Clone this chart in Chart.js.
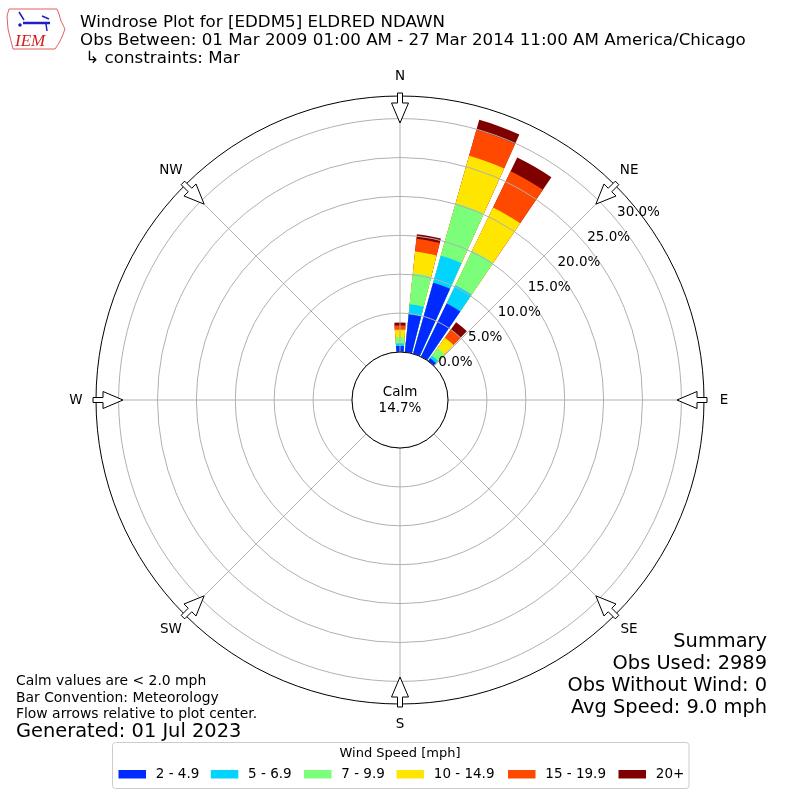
<!DOCTYPE html>
<html>
<head>
<meta charset="utf-8">
<script src="https://cdn.jsdelivr.net/npm/chart.js@4.4.1/dist/chart.umd.min.js"></script>
<style>
  html, body { margin: 0; padding: 0; background: #fff; }
  #wrap { width: 800px; height: 800px; }
</style>
</head>
<body>
<div id="wrap"><canvas id="c" width="800" height="800"></canvas></div>
<script>
// ---- data (percent of observations) ----
const directions = [0,10,20,30,40,50,60,70,80,90,100,110,120,130,140,150,160,170,
                    180,190,200,210,220,230,240,250,260,270,280,290,300,310,320,330,340,350];
const speedBins = ['2 - 4.9', '5 - 6.9', '7 - 9.9', '10 - 14.9', '15 - 19.9', '20+'];
const binColors = ['#002aff', '#00d4ff', '#7bff7b', '#ffe600', '#ff4800', '#800000'];
const spd2to4   = [0.78, 4.90, 9.50, 7.60, 0.45, 0,0,0,0,0,0,0,0,0,0,0,0,0,0,0,0,0,0,0,0,0,0,0,0,0,0,0,0,0,0,0];
const spd5to6   = [0.33, 1.30, 3.60, 2.60, 0.40, 0,0,0,0,0,0,0,0,0,0,0,0,0,0,0,0,0,0,0,0,0,0,0,0,0,0,0,0,0,0,0];
const spd7to9   = [0.77, 4.00, 7.00, 4.95, 1.20, 0,0,0,0,0,0,0,0,0,0,0,0,0,0,0,0,0,0,0,0,0,0,0,0,0,0,0,0,0,0,0];
const spd10to14 = [0.99, 2.80, 6.35, 6.15, 1.65, 0,0,0,0,0,0,0,0,0,0,0,0,0,0,0,0,0,0,0,0,0,0,0,0,0,0,0,0,0,0,0];
const spd15to19 = [0.55, 1.65, 3.47, 5.20, 1.30, 0,0,0,0,0,0,0,0,0,0,0,0,0,0,0,0,0,0,0,0,0,0,0,0,0,0,0,0,0,0,0];
const spd20plus = [0.38, 0.60, 1.33, 1.95, 1.15, 0,0,0,0,0,0,0,0,0,0,0,0,0,0,0,0,0,0,0,0,0,0,0,0,0,0,0,0,0,0,0];
const calmPct = 14.7;
const radialTicks = [0, 5, 10, 15, 20, 25, 30];
const compassLabels = ['N','NE','E','SE','S','SW','W','NW'];
const titleLines = ['Windrose Plot for [EDDM5] ELDRED NDAWN',
  'Obs Between: 01 Mar 2009 01:00 AM - 27 Mar 2014 11:00 AM America/Chicago',
  ' \u21b3 constraints: Mar'];
const summaryLines = ['Summary', 'Obs Used: 2989', 'Obs Without Wind: 0', 'Avg Speed: 9.0 mph'];
const noteLines = ['Calm values are < 2.0 mph', 'Bar Convention: Meteorology', 'Flow arrows relative to plot center.'];
const generatedText = 'Generated: 01 Jul 2023';

// ---- build polar-area datasets (cumulative stacks, bar + gap per direction) ----
const SECTOR = 10, BAR_W = 8.4;
const series = [spd2to4, spd5to6, spd7to9, spd10to14, spd15to19, spd20plus];
const labels = [];
directions.forEach(d => { labels.push(d + '\u00b0'); labels.push(''); });
const cum = directions.map(() => 0);
const datasets = series.map((s, k) => {
  const data = [];
  const colors = [];
  s.forEach((v, i) => {
    cum[i] += v;
    data.push(+cum[i].toFixed(3)); colors.push(binColors[k]);
    data.push(0); colors.push('rgba(0,0,0,0)');
  });
  return {
    label: speedBins[k], data, backgroundColor: colors, borderWidth: 0,
    angle: ctx => (ctx.dataIndex % 2 === 0 ? BAR_W : SECTOR - BAR_W)
  };
});

const FONT = 'DejaVu Sans, sans-serif';
const deg = Math.PI / 180;

const decor = {
  id: 'decor',
  afterDraw(chart) {
    const ctx = chart.ctx;
    const sc = chart.scales.r;
    const cx = sc.xCenter, cy = sc.yCenter;
    const R = sc.drawingArea;
    const r0 = sc.getDistanceFromCenterForValue(0);
    ctx.save();
    // angle lines
    ctx.strokeStyle = '#b0b0b0'; ctx.lineWidth = 1;
    for (let a = 0; a < 360; a += 45) {
      const s = Math.sin(a * deg), c = Math.cos(a * deg);
      ctx.beginPath(); ctx.moveTo(cx + r0 * s, cy - r0 * c); ctx.lineTo(cx + R * s, cy - R * c); ctx.stroke();
    }
    // outer circle
    ctx.strokeStyle = '#000'; ctx.lineWidth = 1;
    ctx.beginPath(); ctx.arc(cx, cy, R, 0, 2 * Math.PI); ctx.stroke();
    // calm circle
    ctx.fillStyle = '#fff';
    ctx.beginPath(); ctx.arc(cx, cy, r0, 0, 2 * Math.PI); ctx.fill(); ctx.stroke();
    ctx.fillStyle = '#000'; ctx.font = '13.5px ' + FONT; ctx.textAlign = 'center'; ctx.textBaseline = 'middle';
    ctx.fillText('Calm', cx, cy - 8);
    ctx.fillText(calmPct.toFixed(1) + '%', cx, cy + 8);
    // arrows + compass labels
    compassLabels.forEach((lab, i) => {
      const a = i * 45 * deg;
      const ux = Math.sin(a), uy = -Math.cos(a);
      const px = Math.cos(a), py = Math.sin(a);
      const P = (r, w) => [cx + ux * r + px * w, cy + uy * r + py * w];
      const pts = [P(R + 3, 2.5), P(R - 7, 2.5), P(R - 7, 8.5), P(R - 27, 0), P(R - 7, -8.5), P(R - 7, -2.5), P(R + 3, -2.5)];
      ctx.beginPath(); ctx.moveTo(pts[0][0], pts[0][1]);
      pts.slice(1).forEach(p => ctx.lineTo(p[0], p[1]));
      ctx.closePath();
      ctx.fillStyle = '#fff'; ctx.fill();
      ctx.strokeStyle = '#000'; ctx.lineWidth = 1; ctx.stroke();
      ctx.fillStyle = '#000'; ctx.font = '13.5px ' + FONT; ctx.textAlign = 'center'; ctx.textBaseline = 'middle';
      ctx.fillText(lab, cx + ux * (R + 20), cy + uy * (R + 20));
    });
    // radial tick labels
    ctx.font = '13.5px ' + FONT; ctx.textAlign = 'left'; ctx.textBaseline = 'alphabetic';
    const ra = 50 * deg;
    radialTicks.forEach(v => {
      const r = sc.getDistanceFromCenterForValue(v);
      ctx.fillText(v.toFixed(1) + '%', cx + r * Math.sin(ra) + 1.5, cy - r * Math.cos(ra) - 3);
    });
    // title
    ctx.font = '16.7px ' + FONT; ctx.textAlign = 'left';
    titleLines.forEach((t, i) => ctx.fillText(t, 80, 26.5 + i * 18));
    // logo
    ctx.strokeStyle = '#e06060'; ctx.lineWidth = 1;
    ctx.beginPath();
    [[9,9],[57,9],[59,14],[61,21],[65,29],[62,37],[59,43],[55,49],[13,49],[11,41],[8,29],[7,16]].forEach((p, i) => i ? ctx.lineTo(p[0], p[1]) : ctx.moveTo(p[0], p[1]));
    ctx.closePath(); ctx.stroke();
    ctx.strokeStyle = '#2020c0'; ctx.lineWidth = 2.5;
    ctx.beginPath(); ctx.moveTo(23, 23); ctx.lineTo(50, 23); ctx.stroke();
    ctx.lineWidth = 1.5;
    ctx.beginPath(); ctx.moveTo(19, 12); ctx.lineTo(24, 20); ctx.moveTo(42, 16); ctx.lineTo(49, 19);
    ctx.moveTo(46, 24); ctx.lineTo(47, 31); ctx.stroke();
    ctx.fillStyle = '#2020c0';
    ctx.beginPath(); ctx.arc(20, 25, 1.8, 0, 2 * Math.PI); ctx.fill();
    ctx.fillStyle = '#d02020'; ctx.font = 'italic 17px "Liberation Serif", serif';
    ctx.fillText('IEM', 15, 46);
    // notes bottom-left
    ctx.fillStyle = '#000'; ctx.font = '13.9px ' + FONT;
    noteLines.forEach((t, i) => ctx.fillText(t, 16, 685 + i * 16.5));
    ctx.font = '19.4px ' + FONT;
    ctx.fillText(generatedText, 16, 737);
    // summary bottom-right
    ctx.textAlign = 'right';
    summaryLines.forEach((t, i) => ctx.fillText(t, 767, 647 + i * 22));
    // legend box
    const lx = 112.5, ly = 742.5, lw = 576.5, lh = 46;
    ctx.fillStyle = 'rgba(255,255,255,0.9)'; ctx.strokeStyle = '#cccccc'; ctx.lineWidth = 1;
    ctx.beginPath();
    if (ctx.roundRect) ctx.roundRect(lx, ly, lw, lh, 3); else ctx.rect(lx, ly, lw, lh);
    ctx.fill(); ctx.stroke();
    ctx.fillStyle = '#000'; ctx.font = '13px ' + FONT; ctx.textAlign = 'center'; ctx.textBaseline = 'middle';
    ctx.fillText('Wind Speed [mph]', 400, 753.5);
    const patchX = [118.5, 210.8, 304, 396.5, 508, 618.5];
    ctx.textAlign = 'left'; ctx.font = '13.5px ' + FONT;
    speedBins.forEach((b, i) => {
      ctx.fillStyle = binColors[i];
      ctx.fillRect(patchX[i], 770, 27.5, 8.5);
      ctx.fillStyle = '#000';
      ctx.fillText(b, patchX[i] + 37.3, 774.5);
    });
    ctx.restore();
  }
};

new Chart(document.getElementById('c'), {
  type: 'polarArea',
  data: { labels, datasets },
  options: {
    responsive: false,
    animation: false,
    layout: { padding: 96 },
    plugins: { legend: { display: false }, tooltip: { enabled: false }, title: { display: false } },
    scales: {
      r: {
        min: -48 / 7.78,
        max: (304 - 48) / 7.78,
        startAngle: -BAR_W / 2,
        ticks: { display: false },
        afterBuildTicks: s => { s.ticks = radialTicks.map(v => ({ value: v })); },
        grid: { display: true, circular: true, color: '#b0b0b0', lineWidth: 1, z: 1 },
        angleLines: { display: false },
        pointLabels: { display: false }
      }
    }
  },
  plugins: [decor]
});
</script>
</body>
</html>
